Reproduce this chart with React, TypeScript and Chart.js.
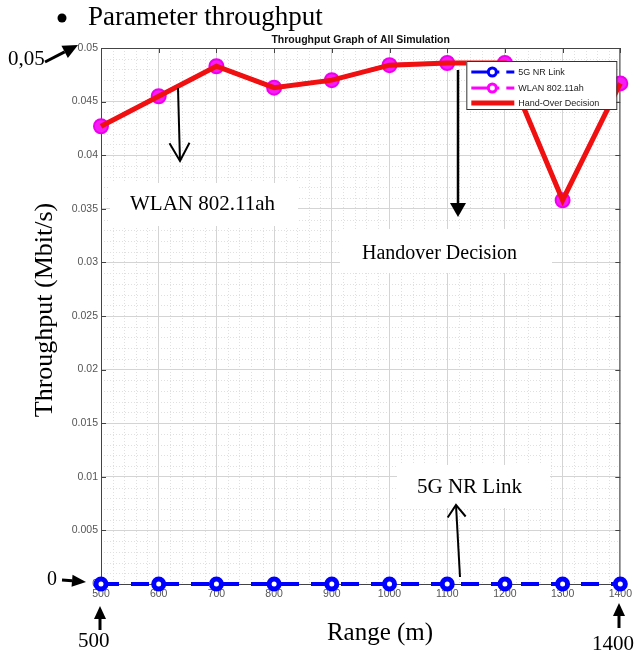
import React, { useEffect, useRef } from 'react';
import { Chart, registerables } from 'chart.js';

Chart.register(...registerables);

const ranges = [500, 600, 700, 800, 900, 1000, 1100, 1200, 1300, 1400];
const nrThroughput = [0, 0, 0, 0, 0, 0, 0, 0, 0, 0];
const wlanThroughput = [0.0427, 0.0455, 0.0483, 0.0463, 0.047, 0.0484, 0.0486, 0.0486, 0.0358, 0.0467];
const handoverThroughput = [0.0427, 0.0455, 0.0483, 0.0463, 0.047, 0.0484, 0.0486, 0.0486, 0.0358, 0.0467];
const seriesNames = ['5G NR Link', 'WLAN 802.11ah', 'Hand-Over Decision'];
const chartTitle = 'Throughput Graph of All Simulation';
const xAxisTitle = 'Range (m)';
const yAxisTitle = 'Throughput (Mbit/s)';
const bulletText = 'Parameter throughput';

const SANS = '"Liberation Sans", Arial, sans-serif';
const SERIF = '"Liberation Serif", "Times New Roman", serif';

const toPoints = (ys: number[]) => ranges.map((x, i) => ({ x, y: ys[i] }));

const minorGridPlugin = {
  id: 'minorGrid',
  beforeDraw(chart: any) {
    const { ctx, chartArea } = chart;
    const xs = chart.scales.x;
    const ys = chart.scales.y;
    const { left, right, top, bottom } = chartArea;
    ctx.save();
    ctx.strokeStyle = '#e0e0e0';
    ctx.lineWidth = 1;
    ctx.setLineDash([1, 2]);
    for (let v = 500; v <= 1400; v += 20) {
      if (v % 100 === 0) continue;
      const px = Math.round(xs.getPixelForValue(v)) + 0.5;
      ctx.beginPath();
      ctx.moveTo(px, top);
      ctx.lineTo(px, bottom);
      ctx.stroke();
    }
    for (let i = 0; i <= 50; i++) {
      if (i % 5 === 0) continue;
      const py = Math.round(ys.getPixelForValue(i * 0.001)) + 0.5;
      ctx.beginPath();
      ctx.moveTo(left, py);
      ctx.lineTo(right, py);
      ctx.stroke();
    }
    ctx.restore();
  },
  beforeDatasetsDraw(chart: any) {
    const { ctx, chartArea } = chart;
    const xs = chart.scales.x;
    const ys = chart.scales.y;
    const { left, right, top, bottom } = chartArea;
    ctx.save();
    ctx.strokeStyle = '#444';
    ctx.lineWidth = 1;
    ctx.beginPath();
    ctx.rect(left + 0.5, top + 0.5, right - left - 1, bottom - top);
    ctx.stroke();
    for (let v = 500; v <= 1400; v += 100) {
      const px = Math.round(xs.getPixelForValue(v)) + 0.5;
      ctx.beginPath();
      ctx.moveTo(px, bottom);
      ctx.lineTo(px, bottom - 5);
      ctx.moveTo(px, top);
      ctx.lineTo(px, top + 5);
      ctx.stroke();
    }
    for (let i = 0; i <= 10; i++) {
      const py = Math.round(ys.getPixelForValue(i * 0.005)) + 0.5;
      ctx.beginPath();
      ctx.moveTo(left, py);
      ctx.lineTo(left + 5, py);
      ctx.moveTo(right, py);
      ctx.lineTo(right - 5, py);
      ctx.stroke();
    }
    ctx.restore();
  },
  afterDatasetsDraw(chart: any) {
    const { ctx, chartArea } = chart;
    const { left, right, top } = chartArea;
    ctx.save();
    ctx.fillStyle = '#111';
    ctx.font = `bold 10.5px ${SANS}`;
    ctx.textAlign = 'center';
    ctx.textBaseline = 'alphabetic';
    ctx.fillText(chartTitle, (left + right) / 2, top - 5);

    const bw = 150;
    const bh = 48;
    const bx = right - 4 - bw;
    const by = top + 13;
    ctx.fillStyle = '#fff';
    ctx.fillRect(bx, by, bw, bh);
    ctx.strokeStyle = '#333';
    ctx.lineWidth = 1;
    ctx.strokeRect(bx + 0.5, by + 0.5, bw, bh);
    const rows = [by + 11, by + 27, by + 42];
    const colors = ['#0000ff', '#ff00ff', '#f01010'];
    ctx.font = `9px ${SANS}`;
    ctx.textAlign = 'left';
    ctx.textBaseline = 'middle';
    rows.forEach((ry, i) => {
      const x0 = bx + 5;
      ctx.strokeStyle = colors[i];
      if (i < 2) {
        ctx.lineWidth = 3;
        ctx.beginPath();
        ctx.moveTo(x0, ry);
        ctx.lineTo(x0 + 28, ry);
        ctx.moveTo(x0 + 35, ry);
        ctx.lineTo(x0 + 43, ry);
        ctx.stroke();
        ctx.fillStyle = '#fff';
        ctx.lineWidth = 3;
        ctx.beginPath();
        ctx.arc(x0 + 21, ry, 4, 0, Math.PI * 2);
        ctx.fill();
        ctx.stroke();
      } else {
        ctx.lineWidth = 5;
        ctx.beginPath();
        ctx.moveTo(x0, ry);
        ctx.lineTo(x0 + 43, ry);
        ctx.stroke();
      }
      ctx.fillStyle = '#222';
      ctx.fillText(seriesNames[i], x0 + 47, ry + 0.5);
    });
    ctx.restore();
  },
};

function arrowHead(x1: number, y1: number, x2: number, y2: number, len: number, half: number) {
  const dx = x2 - x1;
  const dy = y2 - y1;
  const d = Math.sqrt(dx * dx + dy * dy);
  const ux = dx / d;
  const uy = dy / d;
  const bx = x2 - ux * len;
  const by = y2 - uy * len;
  const px = -uy;
  const py = ux;
  return {
    bx,
    by,
    a: [bx + px * half, by + py * half],
    b: [bx - px * half, by - py * half],
  };
}

function FilledArrow({ x1, y1, x2, y2, len = 14, half = 6, w = 2.5 }: any) {
  const h = arrowHead(x1, y1, x2, y2, len, half);
  return (
    <g>
      <line x1={x1} y1={y1} x2={h.bx} y2={h.by} stroke="#000" strokeWidth={w} />
      <polygon points={`${x2},${y2} ${h.a[0]},${h.a[1]} ${h.b[0]},${h.b[1]}`} fill="#000" />
    </g>
  );
}

function OpenArrow({ x1, y1, x2, y2, len = 16, half = 10, w = 2 }: any) {
  const h = arrowHead(x1, y1, x2, y2, len, half);
  return (
    <g stroke="#000" strokeWidth={w} fill="none">
      <line x1={x1} y1={y1} x2={x2} y2={y2} />
      <polyline points={`${h.a[0]},${h.a[1]} ${x2},${y2} ${h.b[0]},${h.b[1]}`} />
    </g>
  );
}

export default function App() {
  const canvasRef = useRef<HTMLCanvasElement | null>(null);

  useEffect(() => {
    if (!canvasRef.current) return;
    const chart = new Chart(canvasRef.current, {
      type: 'line',
      data: {
        datasets: [
          {
            label: seriesNames[2],
            data: toPoints(handoverThroughput),
            borderColor: '#f01010',
            backgroundColor: '#f01010',
            borderWidth: 5,
            pointRadius: 0,
            clip: false,
            order: 0,
          } as any,
          {
            label: seriesNames[1],
            data: toPoints(wlanThroughput),
            borderColor: '#ff00ff',
            backgroundColor: '#ff00ff',
            borderWidth: 4,
            borderDash: [14, 10],
            pointRadius: 7,
            pointBorderWidth: 2,
            pointBackgroundColor: '#f61cf6',
            pointBorderColor: '#ee00ee',
            clip: false,
            order: 1,
          } as any,
          {
            label: seriesNames[0],
            data: toPoints(nrThroughput),
            borderColor: '#0000ff',
            backgroundColor: '#0000ff',
            borderWidth: 4,
            borderDash: [18, 12],
            pointRadius: 5,
            pointBorderWidth: 5,
            pointBackgroundColor: '#ffffff',
            pointBorderColor: '#0000ff',
            clip: false,
            order: 2,
          } as any,
        ],
      },
      options: {
        responsive: false,
        animation: false,
        devicePixelRatio: 1,
        layout: { padding: { top: 48, right: 15, left: 0, bottom: 0 } },
        plugins: {
          legend: { display: false },
          title: { display: false },
          tooltip: { enabled: false },
        },
        scales: {
          x: {
            type: 'linear',
            min: 500,
            max: 1400,
            ticks: {
              stepSize: 100,
              color: '#555',
              font: { family: SANS, size: 10.5 },
              padding: 4,
              maxRotation: 0,
              callback: (v: any) => String(v),
            },
            grid: { color: '#d4d4d4', drawTicks: false },
            border: { color: '#444' },
            afterFit: (s: any) => {
              s.height = 71;
            },
          },
          y: {
            type: 'linear',
            min: 0,
            max: 0.05,
            ticks: {
              stepSize: 0.005,
              color: '#555',
              font: { family: SANS, size: 10.5 },
              padding: 3,
              callback: (v: any) => String(parseFloat(Number(v).toFixed(3))),
            },
            grid: { color: '#d4d4d4', drawTicks: false },
            border: { color: '#444' },
            afterFit: (s: any) => {
              s.width = 101;
            },
          },
        },
      } as any,
      plugins: [minorGridPlugin],
    });
    return () => chart.destroy();
  }, []);

  return (
    <div style={{ position: 'fixed', left: 0, top: 0, width: 636, height: 655, background: '#fff' }}>
      <canvas ref={canvasRef} width={636} height={655} style={{ position: 'absolute', left: 0, top: 0 }} />
      <svg
        width={636}
        height={655}
        style={{ position: 'absolute', left: 0, top: 0, pointerEvents: 'none' }}
        fontFamily={SERIF}
      >
        <circle cx={62} cy={18} r={4.5} fill="#000" />
        <text x={88} y={25} fontSize={27} fill="#000">{bulletText}</text>

        <text x={8} y={65} fontSize={21} fill="#000">0,05</text>
        <FilledArrow x1={45} y1={62} x2={78} y2={45} len={15} half={7} w={3} />

        <text x={47} y={585} fontSize={20} fill="#000">0</text>
        <FilledArrow x1={62} y1={580} x2={86} y2={582} len={14} half={6} w={3} />

        <text x={78} y={647} fontSize={21} fill="#000">500</text>
        <FilledArrow x1={100} y1={630} x2={100} y2={606} len={13} half={6} w={3} />

        <text x={592} y={650} fontSize={21} fill="#000">1400</text>
        <FilledArrow x1={619} y1={628} x2={619} y2={603} len={13} half={6} w={3} />

        <text x={380} y={640} fontSize={25} textAnchor="middle" fill="#000">{xAxisTitle}</text>
        <text transform="translate(52,310) rotate(-90)" fontSize={26} textAnchor="middle" fill="#000">
          {yAxisTitle}
        </text>

        <rect x={110} y={183} width={188} height={43} fill="#fff" />
        <text x={130} y={210} fontSize={21} fill="#000">WLAN 802.11ah</text>
        <OpenArrow x1={178} y1={88} x2={180} y2={161} len={18} half={10} w={2} />

        <rect x={340} y={229} width={212} height={44} fill="#fff" />
        <text x={362} y={259} fontSize={20} fill="#000">Handover Decision</text>
        <FilledArrow x1={458} y1={70} x2={458} y2={217} len={14} half={8} w={2.5} />

        <rect x={397} y={465} width={153} height={43} fill="#fff" />
        <text x={417} y={493} fontSize={21} fill="#000">5G NR Link</text>
        <OpenArrow x1={460} y1={577} x2={456} y2={505} len={12} half={9} w={2} />
      </svg>
    </div>
  );
}
